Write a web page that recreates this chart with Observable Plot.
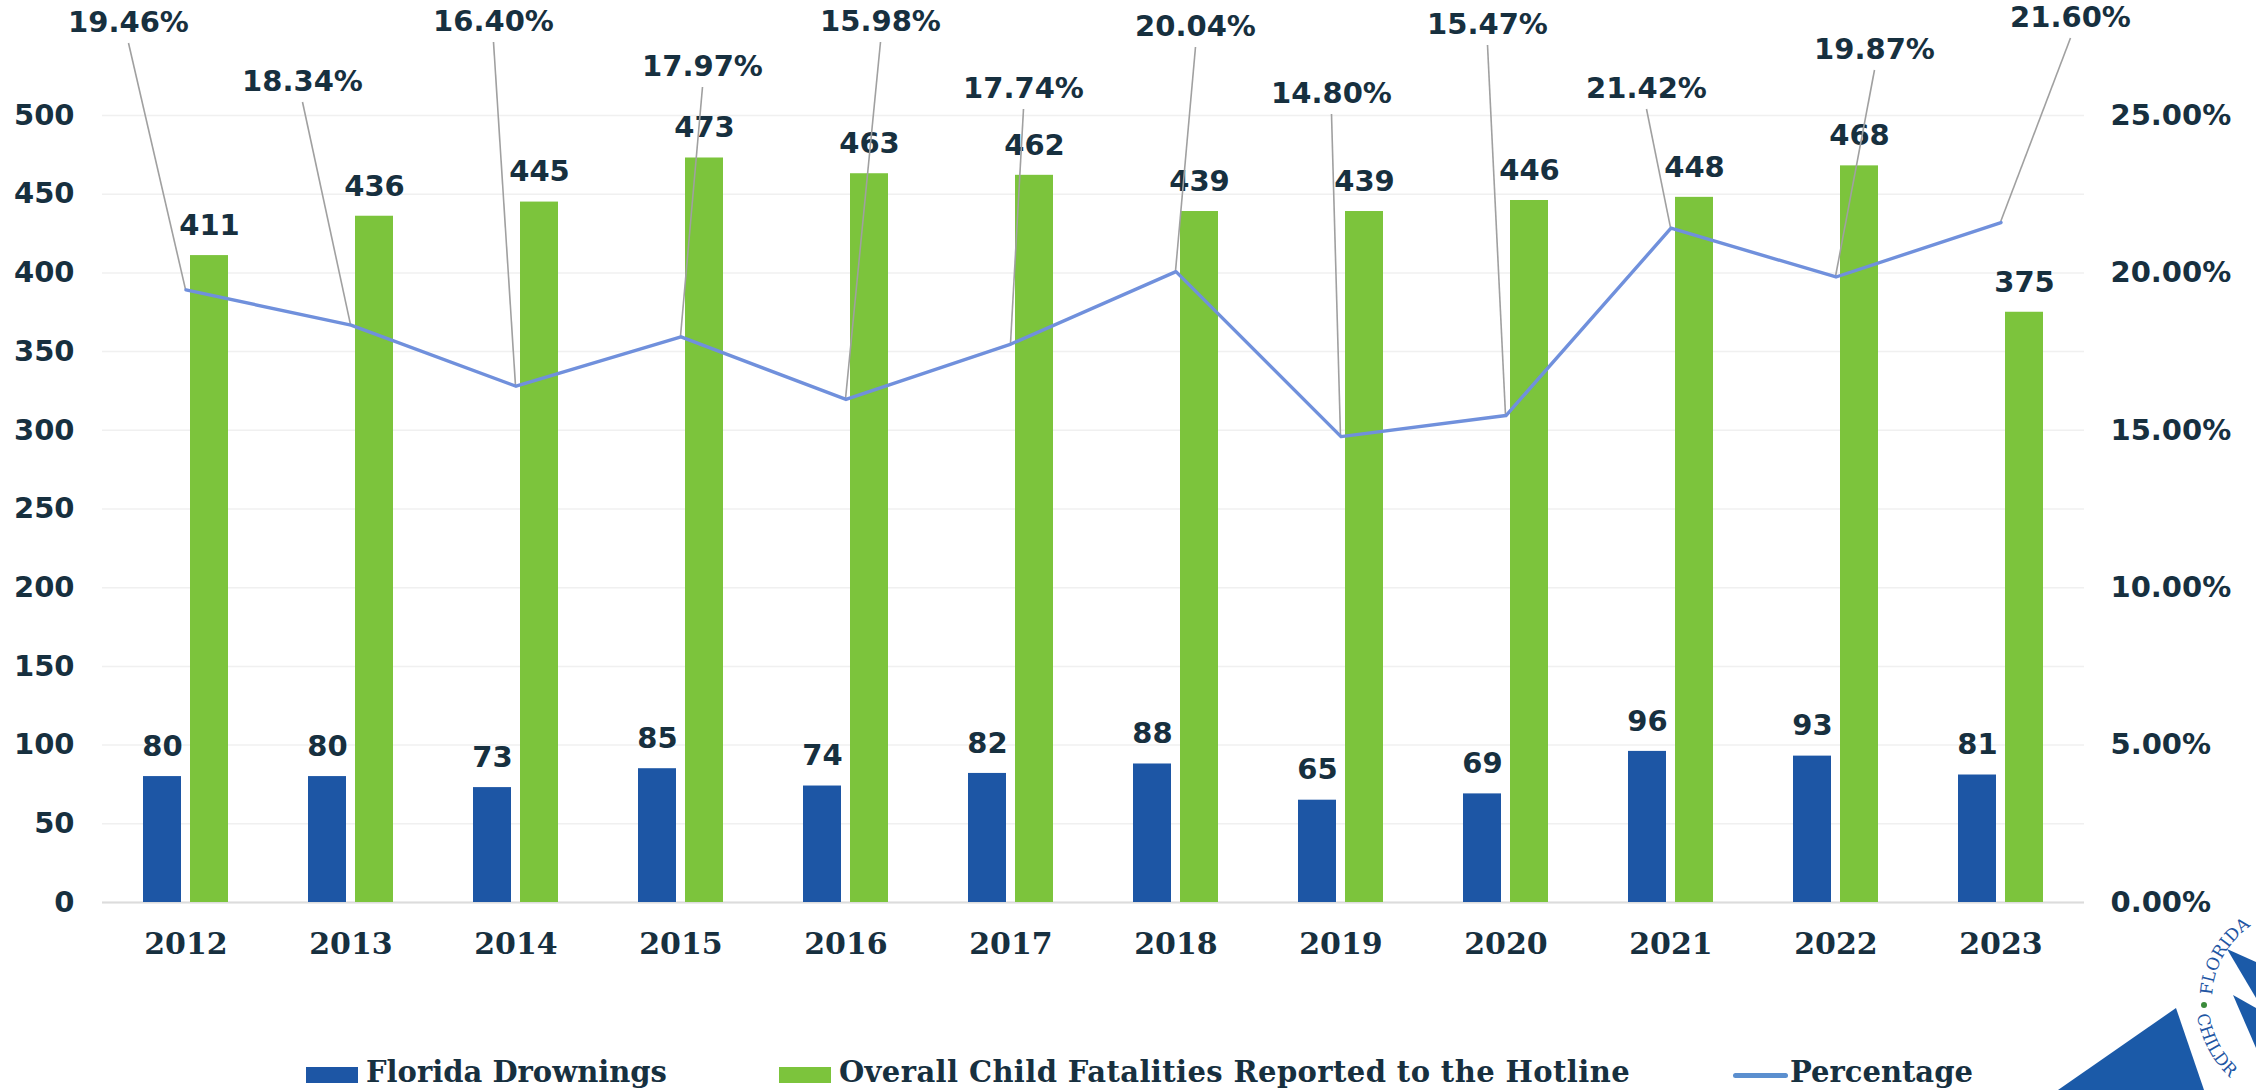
<!DOCTYPE html>
<html>
<head>
<meta charset="utf-8">
<script src="https://cdn.jsdelivr.net/npm/d3@7"></script>
<script src="https://cdn.jsdelivr.net/npm/@observablehq/plot@0.6"></script>
<style>
  html, body { margin: 0; padding: 0; background: #ffffff; }
  #wrap { position: relative; width: 2256px; height: 1090px; overflow: hidden; background: #ffffff; }
  #chart svg { display: block; }
  #legend {
    position: absolute; left: 0; top: 1042px; width: 2256px; height: 60px;
    display: flex; align-items: center; padding-left: 306px; box-sizing: border-box;
    font-family: "DejaVu Serif", serif; font-weight: bold; font-size: 29px; color: #17303f;
  }
  .item { display: flex; align-items: center; margin-right: 112px; white-space: nowrap; }
  .item:nth-child(2) { margin-right: 103px; }
  .item:nth-child(2) span { letter-spacing: 0.4px; }
  .sw { width: 52px; height: 16px; margin-right: 8px; margin-top: 6px; }
  .swline { width: 55px; height: 5px; border-radius: 3px; margin-right: 2px; margin-top: 6px; }
  #logo { position: absolute; left: 0; top: 0; pointer-events: none; }
</style>
</head>
<body>
<div id="wrap">
  <div id="chart"></div>
  <div id="legend"></div>
  <svg id="logo" width="2256" height="1090" viewBox="0 0 2256 1090"></svg>
</div>
<script>
// ---- data ----
const years = ["2012","2013","2014","2015","2016","2017","2018","2019","2020","2021","2022","2023"];
const drownings = [80, 80, 73, 85, 74, 82, 88, 65, 69, 96, 93, 81];
const fatalities = [411, 436, 445, 473, 463, 462, 439, 439, 446, 448, 468, 375];
const percentage = [19.46, 18.34, 16.40, 17.97, 15.98, 17.74, 20.04, 14.80, 15.47, 21.42, 19.87, 21.60];
const leftTicks = [0, 50, 100, 150, 200, 250, 300, 350, 400, 450, 500];
const rightTicks = [0, 5, 10, 15, 20, 25];
const seriesNames = ["Florida Drownings", "Overall Child Fatalities Reported to the Hotline", "Percentage"];

// ---- layout / style (callout label placement, in pixels) ----
const calloutDx = [-57, -48, -22, 22, 35, 13, 20, -9, -18, -24, 39, 70];
const calloutTop = [-93, -34, -94, -49, -94, -27, -89, -22, -91, -27, -66, -98];

const BLUE = "#1d56a5";
const GREEN = "#7cc43c";
const LINE = "#7090dc";
const LEGEND_LINE = "#5b8fcf";
const INK = "#17303f";

// right axis (0–25 %) shares the left axis range (0–500)
const pctScale = 500 / 25;

const rows = years.map((year, i) => ({
  year, drownings: drownings[i], fatalities: fatalities[i], pct: percentage[i]
}));

function bandInfo(scales) {
  const sx = scales.x;
  let bw = 0;
  if (typeof sx.bandwidth === "function") bw = sx.bandwidth();
  else if (typeof sx.bandwidth === "number") bw = sx.bandwidth;
  else if (scales.scales && scales.scales.x && scales.scales.x.bandwidth) bw = scales.scales.x.bandwidth;
  return bw;
}

function leaders(index, scales, values, dimensions) {
  const bw = bandInfo(scales);
  const g = d3.create("svg:g").attr("aria-label", "callout leaders");
  rows.forEach((d, i) => {
    const px = scales.x(d.year) + bw / 2, py = scales.y(d.pct * pctScale);
    const lx = px + calloutDx[i], ly = dimensions.marginTop + calloutTop[i];
    g.append("line")
      .attr("x1", lx).attr("y1", ly + 21)
      .attr("x2", px).attr("y2", py)
      .attr("stroke", "#a0a0a0").attr("stroke-width", 1.6);
  });
  return g.node();
}

function calloutLabels(index, scales, values, dimensions) {
  const bw = bandInfo(scales);
  const g = d3.create("svg:g").attr("aria-label", "percentage labels");
  rows.forEach((d, i) => {
    const px = scales.x(d.year) + bw / 2;
    const lx = px + calloutDx[i], ly = dimensions.marginTop + calloutTop[i];
    g.append("text")
      .attr("x", lx).attr("y", ly).attr("dy", "0.36em")
      .attr("text-anchor", "middle")
      .attr("fill", INK)
      .attr("font-family", "DejaVu Sans")
      .attr("font-weight", "bold")
      .attr("font-size", 29)
      .text(d.pct.toFixed(2) + "%");
  });
  return g.node();
}

const chart = Plot.plot({
  width: 2256,
  height: 1030,
  marginLeft: 102,
  marginRight: 172,
  marginTop: 115,
  marginBottom: 128,
  style: { background: "transparent", color: INK, fontFamily: "DejaVu Sans", fontWeight: "bold", fontSize: "29px", overflow: "visible" },
  x: { domain: years, padding: 0, axis: null, label: null },
  y: { domain: [0, 500], axis: null, label: null },
  marks: [
    Plot.gridY(leftTicks, { stroke: "#f0f0f0", strokeOpacity: 1, strokeWidth: 1.5 }),
    Plot.ruleY([0], { stroke: "#dcdcdc", strokeWidth: 2 }),
    Plot.barY(rows, { x: "year", y: "drownings", fill: BLUE, insetLeft: 40, insetRight: 87 }),
    Plot.barY(rows, { x: "year", y: "fatalities", fill: GREEN, insetLeft: 87, insetRight: 40 }),
    Plot.text(rows, { x: "year", y: "drownings", text: d => String(d.drownings), dx: -23.5, dy: -30, fill: INK, fontSize: 29, fontWeight: "bold", fontFamily: "DejaVu Sans" }),
    Plot.text(rows, { x: "year", y: "fatalities", text: d => String(d.fatalities), dx: 23.5, dy: -30, fill: INK, fontSize: 29, fontWeight: "bold", fontFamily: "DejaVu Sans" }),
    leaders,
    Plot.line(rows, { x: "year", y: d => d.pct * pctScale, stroke: LINE, strokeWidth: 3.4 }),
    calloutLabels,
    Plot.axisY(leftTicks, { anchor: "left", label: null, tickSize: 0, tickPadding: 28, fontSize: 29, fontWeight: "bold", fontFamily: "DejaVu Sans" }),
    Plot.axisY(rightTicks.map(v => v * pctScale), { anchor: "right", label: null, tickSize: 0, tickPadding: 26, fontSize: 29, fontWeight: "bold", fontFamily: "DejaVu Sans", tickFormat: v => (v / pctScale).toFixed(2) + "%" }),
    Plot.axisX({ anchor: "bottom", label: null, tickSize: 0, tickPadding: 30, fontSize: 30, fontWeight: "bold", fontFamily: "DejaVu Serif" })
  ]
});
document.getElementById("chart").appendChild(chart);

// ---- legend ----
const legend = document.getElementById("legend");
const swatches = [
  { cls: "sw", color: BLUE },
  { cls: "sw", color: GREEN },
  { cls: "swline", color: LEGEND_LINE }
];
seriesNames.forEach((name, i) => {
  const item = document.createElement("div");
  item.className = "item";
  const sw = document.createElement("div");
  sw.className = swatches[i].cls;
  sw.style.background = swatches[i].color;
  const label = document.createElement("span");
  label.textContent = name;
  item.appendChild(sw);
  item.appendChild(label);
  legend.appendChild(item);
});

// ---- partial seal logo (decoration, bottom-right corner) ----
const logo = d3.select("#logo");
const cx = 2302, cy = 1000;
const defs = logo.append("defs");
const rTop = 90;
const pt = (r, deg) => [cx + r * Math.cos(Math.PI * deg / 180), cy + r * Math.sin(Math.PI * deg / 180)];
const [t0x, t0y] = pt(rTop, 183), [t1x, t1y] = pt(rTop, 240);
defs.append("path").attr("id", "arcTop").attr("d", `M ${t0x} ${t0y} A ${rTop} ${rTop} 0 0 1 ${t1x} ${t1y}`);
const rBot = 106;
const [b0x, b0y] = pt(rBot, 172), [b1x, b1y] = pt(rBot, 118);
defs.append("path").attr("id", "arcBot").attr("d", `M ${b0x} ${b0y} A ${rBot} ${rBot} 0 0 0 ${b1x} ${b1y}`);
logo.append("polygon").attr("points", "2176,1008 2058,1090 2204,1090").attr("fill", "#1b5aa8");
logo.append("polygon").attr("points", "2227,949 2256,962 2256,998").attr("fill", "#1b5aa8");
logo.append("polygon").attr("points", "2233,995 2256,1008 2256,1048").attr("fill", "#1b5aa8");
logo.append("text").attr("font-family", "DejaVu Serif").attr("font-size", 17).attr("fill", "#1f56a3")
  .append("textPath").attr("href", "#arcTop").text("FLORIDA");
const [dx0, dy0] = pt(98, 180);
logo.append("circle").attr("cx", dx0).attr("cy", dy0 + 5).attr("r", 3).attr("fill", "#3a8a3a");
logo.append("text").attr("font-family", "DejaVu Serif").attr("font-size", 17).attr("fill", "#1f56a3")
  .append("textPath").attr("href", "#arcBot").text("CHILDR");
</script>
</body>
</html>
